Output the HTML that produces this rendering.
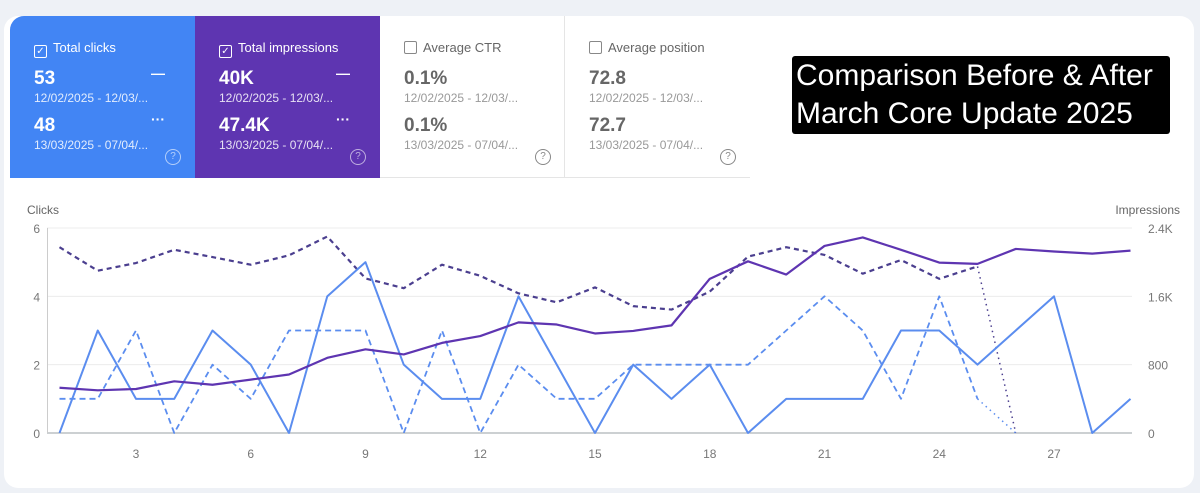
<!DOCTYPE html>
<html><head><meta charset="utf-8"><style>
body{margin:0;width:1200px;height:493px;background:#eef1f6;font-family:"Liberation Sans",sans-serif;overflow:hidden;position:relative}
.card{position:absolute;left:4px;top:16px;width:1190px;height:472px;background:#fff;border-radius:14px}
.tile{position:absolute;top:16px;height:162px;width:185px;box-sizing:border-box;padding:0 0 0 24px}
.lab{position:absolute;top:24px;left:24px;font-size:13px}
.cb{display:inline-block;width:11px;height:11px;border:1px solid;border-radius:2px;vertical-align:-2px;margin-right:6px;font-size:10px;line-height:11px;text-align:center}
.v{position:absolute;left:24px;font-size:19px;font-weight:bold}
.d{position:absolute;left:24px;font-size:12px}
.mk{position:absolute;left:141px;font-size:14px;font-weight:bold}
.q{position:absolute;left:155px;top:133px;width:14px;height:14px;border:1.5px solid;border-radius:50%;font-size:10px;text-align:center;line-height:14px}
</style></head><body>
<div class="card"></div>
<div class="tile" style="left:10px;background:#4285f4;color:#fff;border-top-left-radius:14px">
<div class="lab"><span class="cb">✓</span>Total clicks</div>
<div class="v" style="top:52px">53</div><div class="mk" style="top:49px">—</div>
<div class="d" style="top:75px;opacity:.85">12/02/2025 - 12/03/...</div>
<div class="v" style="top:99px">48</div><div class="mk" style="top:95px">···</div>
<div class="d" style="top:122px;opacity:.85">13/03/2025 - 07/04/...</div><div class="q" style="opacity:.6">?</div></div>
<div class="tile" style="left:195px;background:#5e35b1;color:#fff">
<div class="lab"><span class="cb">✓</span>Total impressions</div>
<div class="v" style="top:52px">40K</div><div class="mk" style="top:49px">—</div>
<div class="d" style="top:75px;opacity:.85">12/02/2025 - 12/03/...</div>
<div class="v" style="top:99px">47.4K</div><div class="mk" style="top:95px">···</div>
<div class="d" style="top:122px;opacity:.85">13/03/2025 - 07/04/...</div><div class="q" style="opacity:.6">?</div></div>
<div class="tile" style="left:380px;color:#666;border-right:1px solid #e5e5e5;border-bottom:1px solid #e5e5e5">
<div class="lab"><span class="cb" style="color:#888"></span>Average CTR</div>
<div class="v" style="top:52px">0.1%</div>
<div class="d" style="top:75px;color:#999">12/02/2025 - 12/03/...</div>
<div class="v" style="top:99px">0.1%</div>
<div class="d" style="top:122px;color:#999">13/03/2025 - 07/04/...</div><div class="q" style="color:#888">?</div></div>
<div class="tile" style="left:565px;color:#666;border-bottom:1px solid #e5e5e5">
<div class="lab"><span class="cb" style="color:#888"></span>Average position</div>
<div class="v" style="top:52px">72.8</div>
<div class="d" style="top:75px;color:#999">12/02/2025 - 12/03/...</div>
<div class="v" style="top:99px">72.7</div>
<div class="d" style="top:122px;color:#999">13/03/2025 - 07/04/...</div><div class="q" style="color:#888">?</div></div>
<div style="position:absolute;left:792px;top:56px;width:378px;height:78px;background:#000;color:#fff;border-radius:3px;font-size:30px;line-height:38px;padding:1px 0 0 4px;box-sizing:border-box;white-space:nowrap">Comparison Before &amp; After<br>March Core Update 2025</div>
<svg id="chart" width="1200" height="493" style="position:absolute;left:0;top:0"></svg>
<script>
const days=[1,2,3,4,5,6,7,8,9,10,11,12,13,14,15,16,17,18,19,20,21,22,23,24,25,26,27,28,29];
const xTicks=[3,6,9,12,15,18,21,24,27];
const clickTicks=[0,2,4,6];
const imprTickLabels=["0","800","1.6K","2.4K"];
const clicksCur=[0,3,1,1,3,2,0,4,5,2,1,1,4,2,0,2,1,2,0,1,1,1,3,3,2,3,4,0,1];
const clicksPrev=[1,1,3,0,2,1,3,3,3,0,3,0,2,1,1,2,2,2,2,3,4,3,1,4,1,0];
const imprCur=[530,500,515,605,565,625,685,880,980,920,1055,1135,1295,1270,1165,1195,1260,1805,2010,1855,2190,2290,2145,1995,1980,2155,2125,2100,2135];
const imprPrev=[2175,1900,1990,2145,2060,1970,2080,2300,1810,1695,1970,1840,1635,1530,1705,1485,1445,1655,2065,2175,2085,1865,2025,1805,1950,0];
const svg=document.getElementById('chart');const NS='http://www.w3.org/2000/svg';
const X=d=>59.5+(d-1)*38.25;const YC=v=>433-v*(205/6);const YI=v=>433-v*(205/2400);
function mk(t,a,txt){const e=document.createElementNS(NS,t);for(const k in a)e.setAttribute(k,a[k]);if(txt!==undefined)e.textContent=txt;svg.appendChild(e);return e;}
clickTicks.forEach((t,i)=>{const l=mk('line',{x1:47,x2:1132,y1:YC(t),y2:YC(t),stroke:i?'#ececec':'#9aa0a6','stroke-width':1});


const a=mk('text',{x:40,y:YC(t)+5,'font-size':12,fill:'#777','text-anchor':'end'},t);


const b=mk('text',{x:1148,y:YC(t)+5,'font-size':12,fill:'#777'},imprTickLabels[i]);

});
const ax=mk('line',{x1:47.5,x2:47.5,y1:228,y2:433,stroke:'#ccc'});


xTicks.forEach(t=>{const e=mk('text',{x:X(t),y:458,'font-size':12,fill:'#777','text-anchor':'middle'},t);

});
const t1=mk('text',{x:27,y:214,'font-size':12,fill:'#666'},'Clicks');


const t2=mk('text',{x:1180,y:214,'font-size':12,fill:'#666','text-anchor':'end'},'Impressions');


function line(vals,yf,color,dash,name,w,dotLast){
 const n=dotLast?vals.length-1:vals.length;
 const pts=vals.slice(0,n).map((v,i)=>X(days[i])+','+yf(v)).join(' ');
 const p=mk('polyline',{points:pts,fill:'none',stroke:color,'stroke-width':w,'stroke-dasharray':dash||'none','stroke-linejoin':'round'});
 
 
 if(dotLast){const k=vals.length-1;const q=mk('line',{x1:X(days[k-1]),y1:yf(vals[k-1]),x2:X(days[k]),y2:yf(vals[k]),stroke:color,'stroke-width':1.5,'stroke-dasharray':'1.5 4'});
 
 }
}
line(clicksPrev,YC,'#5b8def','6 4','clicks-previous-line',1.8,true);
line(imprPrev,YI,'#4b3f8f','5 4','impressions-previous-line',2.2,true);
line(clicksCur,YC,'#5b8def','','clicks-current-line',2,false);
line(imprCur,YI,'#5e35b1','','impressions-current-line',2.2,false);
</script>
</body></html>
